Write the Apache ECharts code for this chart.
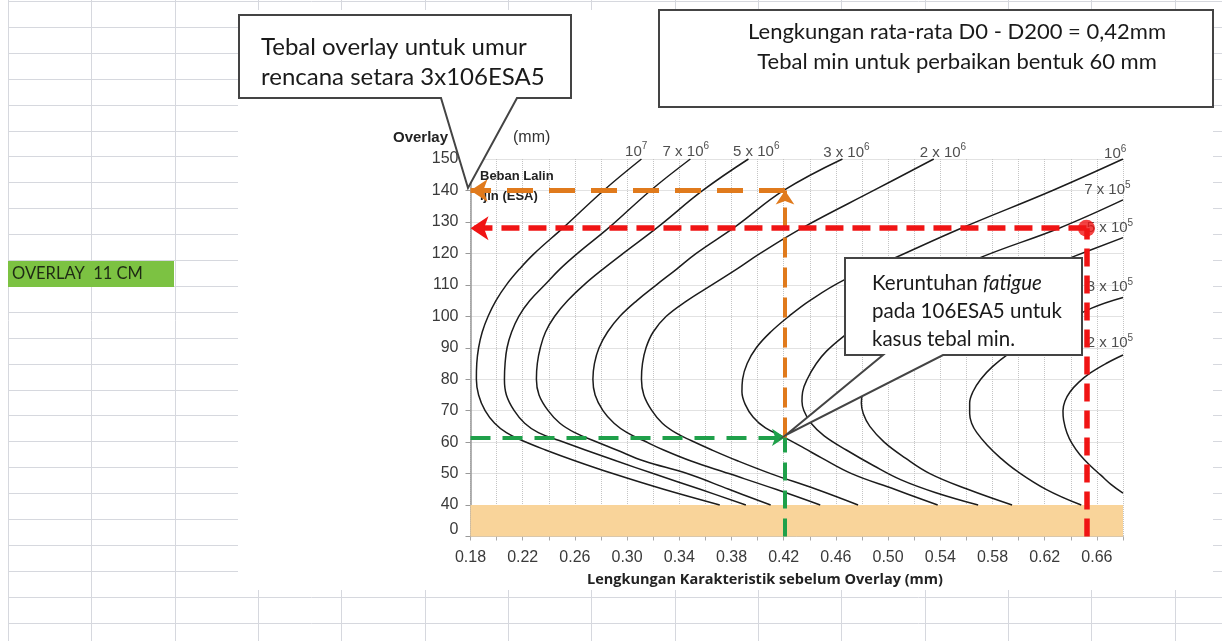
<!DOCTYPE html>
<html>
<head>
<meta charset="utf-8">
<script src="https://cdn.jsdelivr.net/npm/echarts@6/dist/echarts.min.js"></script>
<style>
html, body { margin: 0; padding: 0; background: #fff; }
#chart { width: 1222px; height: 641px; }
</style>
</head>
<body>
<div id="chart"></div>
<script>
// sumbu
const xTickLabels = ['0.18', '0.22', '0.26', '0.30', '0.34', '0.38', '0.42', '0.46', '0.50', '0.54', '0.58', '0.62', '0.66'];
const yTickValues = [30, 40, 50, 60, 70, 80, 90, 100, 110, 120, 130, 140, 150];
const yTickLabels = ['0', '40', '50', '60', '70', '80', '90', '100', '110', '120', '130', '140', '150'];

// kurva beban lalin ijin (ESA): [lengkungan, tebal overlay]
const curve1e7 = [[0.311, 150], [0.282, 140], [0.252, 128.5], [0.229, 120], [0.2175, 115], [0.2075, 110], [0.1995, 105], [0.1935, 100], [0.189, 95], [0.1862, 90], [0.1848, 85], [0.1845, 80], [0.1862, 75], [0.1912, 70], [0.1985, 66], [0.2075, 63], [0.2195, 60.5], [0.2375, 57.5], [0.2605, 54], [0.289, 50], [0.328, 45], [0.371, 40]];
const curve7e6 = [[0.3485, 150], [0.318, 140], [0.287, 128.5], [0.262, 120], [0.2485, 115], [0.237, 110], [0.2255, 105], [0.217, 100], [0.2115, 95], [0.208, 90], [0.2065, 85], [0.206, 80], [0.2075, 75], [0.2135, 70], [0.2215, 66], [0.232, 63], [0.248, 60.5], [0.268, 57.5], [0.292, 54], [0.32, 50], [0.356, 45], [0.391, 40]];
const curve5e6 = [[0.393, 150], [0.358, 140], [0.324, 128.5], [0.297, 120], [0.2815, 115], [0.267, 110], [0.2545, 105], [0.2445, 100], [0.2375, 95], [0.2335, 90], [0.2312, 85], [0.2305, 80], [0.2325, 75], [0.2395, 70], [0.2485, 66], [0.26, 63], [0.274, 60.5], [0.292, 57.5], [0.313, 54], [0.346, 50], [0.378, 45], [0.41, 40]];
const curve3e6 = [[0.465, 150], [0.42, 140], [0.383, 128.5], [0.353, 120], [0.338, 115], [0.3225, 110], [0.3075, 105], [0.2945, 100], [0.285, 95], [0.2785, 90], [0.275, 85], [0.2738, 80], [0.2755, 75], [0.2815, 70], [0.29, 66], [0.30, 63], [0.3125, 60.5], [0.328, 57.5], [0.349, 54], [0.378, 50], [0.414, 45], [0.448, 40]];
const curve2e6 = [[0.535, 150], [0.489, 140], [0.436, 128.5], [0.402, 120], [0.384, 115], [0.365, 110], [0.346, 105], [0.33, 100], [0.32, 95], [0.3145, 90], [0.3118, 85], [0.311, 80], [0.3128, 75], [0.319, 70], [0.327, 66], [0.337, 63], [0.349, 60.5], [0.365, 57.5], [0.385, 54], [0.41, 50], [0.445, 45], [0.477, 40]];
const curve1e6 = [[0.68, 150], [0.626, 140], [0.556, 128], [0.502, 118], [0.466, 111.5], [0.44, 105], [0.424, 100], [0.41, 95], [0.399, 90], [0.392, 85], [0.3885, 80], [0.388, 76], [0.3905, 72], [0.3965, 68], [0.406, 64.5], [0.4205, 61.5], [0.436, 58], [0.449, 55], [0.472, 50], [0.505, 45], [0.538, 40]];
const curve7e5 = [[0.68, 137], [0.631, 128], [0.5715, 118.8], [0.525, 110], [0.50, 104], [0.486, 100], [0.467, 94], [0.453, 89], [0.445, 85], [0.438, 80], [0.4345, 76], [0.434, 73], [0.4355, 70], [0.441, 66], [0.451, 62], [0.468, 57.5], [0.489, 52.5], [0.51, 48], [0.536, 44], [0.569, 40]];
const curve5e5 = [[0.68, 125], [0.641, 118.8], [0.587, 110], [0.561, 105], [0.538, 100], [0.519, 95], [0.504, 90], [0.492, 85], [0.484, 80], [0.4805, 76], [0.4795, 72.4], [0.481, 69], [0.486, 65], [0.497, 60], [0.513, 55], [0.532, 50], [0.561, 45], [0.595, 40]];
const curve3e5 = [[0.68, 106], [0.656, 102.6], [0.625, 96], [0.607, 92], [0.593, 88.3], [0.58, 84], [0.571, 80], [0.565, 76], [0.5625, 72.4], [0.5625, 69], [0.564, 66], [0.568, 63], [0.576, 59], [0.586, 55], [0.598, 51], [0.621, 45], [0.648, 40]];
const curve2e5 = [[0.68, 87.7], [0.667, 85], [0.655, 82], [0.646, 79], [0.6395, 76], [0.6355, 73], [0.634, 70], [0.6345, 67], [0.637, 63], [0.641, 59.5], [0.647, 56], [0.655, 52.5], [0.663, 49.5], [0.671, 46.5], [0.68, 43.8]];
const curves = [curve1e7, curve7e6, curve5e6, curve3e6, curve2e6, curve1e6, curve7e5, curve5e5, curve3e5, curve2e5];

// nama kurva (pangkat sebagai superscript)
const curveLabels = ['{n|10}{s|7}', '{n|7 x 10}{s|6}', '{n|5 x 10}{s|6}', '{n|3 x 10}{s|6}', '{n|2 x 10}{s|6}',
    '{n|10}{s|6}', '{n|7 x 10}{s|5}', '{n|5 x 10}{s|5}', '{n|3 x 10}{s|5}', '{n|2 x 10}{s|5}'];
const labelAnchors = [[0.307, 152.4], [0.345, 152.4], [0.399, 152.4], [0.468, 152], [0.542, 152],
    [0.674, 151.6], [0.668, 140.1], [0.67, 128], [0.67, 109.3], [0.67, 91.5]];

// pembacaan grafik
const bandRange = [30, 40];
const dAvg = 0.421;       // lengkungan rata-rata
const dRed = 0.652;
const tDesign = 140;      // tebal untuk 3x10^6 ESA
const tRed = 128;
const tMin = 61.5;        // tebal min

const chart = echarts.init(document.getElementById('chart'));

const gridLine = '#d6d8de';
const bg = [];
// garis sel excel
for (let k = 0; k < 15; k++) {
    const x = Math.round(8 + 83.33 * k) + 0.5;
    bg.push({ type: 'line', z: -10, shape: { x1: x, y1: 0, x2: x, y2: 641 }, style: { stroke: gridLine, lineWidth: 1 } });
}
for (let j = 0; j < 25; j++) {
    const y = Math.round(1 + 25.9 * j) + 0.5;
    bg.push({ type: 'line', z: -10, shape: { x1: 8, y1: y, x2: 1222, y2: y }, style: { stroke: gridLine, lineWidth: 1 } });
}

const graphics = bg.concat([
    { type: 'rect', z: -9, shape: { x: 8, y: 261, width: 166, height: 26 }, style: { fill: '#7cc242' } },
    { type: 'text', z: -9, style: { text: 'OVERLAY  11 CM', x: 12, y: 274, font: '16.5px Lato', fill: '#1e2a14', textVerticalAlign: 'middle' } },
    { type: 'rect', z: -8, shape: { x: 238, y: 10, width: 975, height: 580 }, style: { fill: '#fff' } },

    { type: 'text', z: 5, style: { text: 'Overlay', x: 393, y: 138, font: 'bold 15px "Liberation Sans"', fill: '#222', textVerticalAlign: 'middle' } },
    { type: 'text', z: 5, style: { text: '(mm)', x: 513, y: 138, font: '16px "Liberation Sans"', fill: '#333', textVerticalAlign: 'middle' } },
    { type: 'text', z: 5, style: { text: 'Beban Lalin\nIjin (ESA)', x: 480, y: 166, font: 'bold 13px "Liberation Sans"', fill: '#222', lineHeight: 20 } },
    { type: 'text', z: 5, style: { text: 'Lengkungan Karakteristik sebelum Overlay (mm)', x: 765, y: 580, font: 'bold 14.5px "Open Sans"', fill: '#222', textAlign: 'center', textVerticalAlign: 'middle' } },

    // callout kiri
    { type: 'polygon', z: 10, shape: { points: [[239, 15], [571, 15], [571, 98], [517, 98], [468, 188], [441, 98], [239, 98]] },
        style: { fill: '#fff', stroke: '#444', lineWidth: 2 } },
    { type: 'text', z: 11, style: { text: 'Tebal overlay untuk umur\nrencana setara 3x106ESA5', x: 261, y: 32, font: '24px Lato', fill: '#1a1a1a', lineHeight: 30 } },
    // kotak kanan atas
    { type: 'rect', z: 10, shape: { x: 659, y: 10, width: 554, height: 97 }, style: { fill: '#fff', stroke: '#444', lineWidth: 2 } },
    { type: 'text', z: 11, style: { text: 'Lengkungan rata-rata D0 - D200 = 0,42mm\nTebal min untuk perbaikan bentuk 60 mm', x: 957, y: 17, font: '22px Lato', fill: '#1a1a1a', lineHeight: 30, textAlign: 'center' } },
    // callout fatigue
    { type: 'polygon', z: 10, shape: { points: [[845, 258], [1082, 258], [1082, 355], [943, 355], [786, 435], [883, 355], [845, 355]] },
        style: { fill: '#fff', stroke: '#444', lineWidth: 2 } },
    { type: 'text', z: 11, style: {
        text: '{n|Keruntuhan }{i|fatigue}\n{n|pada 106ESA5 untuk}\n{n|kasus tebal min.}', x: 872, y: 269,
        rich: { n: { font: '20.5px Lato', fill: '#1a1a1a', lineHeight: 28 }, i: { font: 'italic 20.5px Lato', fill: '#1a1a1a', lineHeight: 28 } }
    } }
]);

const dash = (color, width, type) => ({ color, width, type, opacity: 1 });

const series = [
    {
        type: 'line', data: [], z: -1, silent: true,
        markArea: { silent: true, itemStyle: { color: '#f9d49a' }, data: [[{ yAxis: bandRange[0] }, { yAxis: bandRange[1] }]] }
    },
    ...curves.map((c) => ({
        type: 'line', data: c, z: 2, smooth: 0.4, showSymbol: false, silent: true,
        lineStyle: { color: '#1c1c1c', width: 1.5 }
    })),
    {
        type: 'scatter', z: 3, clip: false, silent: true, symbolSize: 0,
        data: labelAnchors.map((p, i) => ({ value: p, label: { formatter: curveLabels[i] } })),
        label: {
            show: true, position: 'inside', color: '#222',
            rich: {
                n: { fontSize: 15, fontFamily: 'Liberation Sans', color: '#222', lineHeight: 20 },
                s: { fontSize: 10, fontFamily: 'Liberation Sans', color: '#222', lineHeight: 10, verticalAlign: 'top' }
            }
        }
    },
    {
        type: 'line', data: [], z: 4, silent: true,
        markLine: {
            silent: true, animation: false, label: { show: false },
            data: [
                [{ coord: [dAvg, bandRange[0]], symbol: 'none', lineStyle: dash('#1fa04a', 4, [18, 10]) }, { coord: [dAvg, tMin], symbol: 'none' }],
                [{ coord: [0.18, tMin], symbol: 'none', lineStyle: dash('#1fa04a', 4, [20, 12]) }, { coord: [dAvg, tMin], symbol: 'arrow', symbolSize: 13 }],
                [{ coord: [dAvg, tMin], symbol: 'none', lineStyle: dash('#e07a1c', 4, [20, 10]) }, { coord: [dAvg, tDesign], symbol: 'arrow', symbolSize: 14 }],
                [{ coord: [dAvg, tDesign], symbol: 'none', lineStyle: dash('#e07a1c', 5, [26, 16]) }, { coord: [0.18, tDesign], symbol: 'arrow', symbolSize: 17 }],
                [{ coord: [dRed, bandRange[0]], symbol: 'none', lineStyle: dash('#f01414', 5.5, [18, 9]) }, { coord: [dRed, tRed], symbol: 'none' }],
                [{ coord: [dRed, tRed], symbol: 'none', lineStyle: dash('#f01414', 5.5, [18, 9]) }, { coord: [0.18, tRed], symbol: 'arrow', symbolSize: 18 }]
            ]
        }
    },
    {
        type: 'scatter', z: 6, silent: true, symbolSize: 17,
        itemStyle: { color: '#f01414' },
        data: [[dRed, tRed]]
    }
];

const option = {
    animation: false,
    backgroundColor: '#fff',
    graphic: { elements: graphics },
    grid: { left: 470.5, right: 99, top: 159, bottom: 104.5 },
    xAxis: {
        type: 'value', min: 0.18, max: 0.68, interval: 0.02,
        axisLine: { show: true, lineStyle: { color: '#bbb' } },
        axisTick: { show: true, length: 4, lineStyle: { color: '#aaa' } },
        splitLine: { show: true, lineStyle: { color: '#c4c4c4', type: 'dotted' } },
        axisLabel: {
            margin: 13, fontSize: 16, fontFamily: 'Liberation Sans', color: '#3a3a3a',
            formatter: (v) => { const s = v.toFixed(2); return xTickLabels.includes(s) ? s : ''; }
        }
    },
    yAxis: {
        type: 'value', min: 30, max: 150, interval: 10,
        axisLine: { show: true, lineStyle: { color: '#999', width: 1.5 } },
        axisTick: { show: true, length: 5, lineStyle: { color: '#999' } },
        splitLine: { show: true, lineStyle: { color: '#c4c4c4', type: 'dotted' } },
        axisLabel: {
            margin: 12, fontSize: 16, fontFamily: 'Liberation Sans', color: '#3a3a3a',
            formatter: (v) => {
                const i = yTickValues.indexOf(Math.round(v));
                if (i < 0) return '';
                return i === 0 ? '{z|' + yTickLabels[i] + '}' : yTickLabels[i];
            },
            rich: { z: { fontSize: 16, fontFamily: 'Liberation Sans', color: '#3a3a3a', padding: [0, 0, 14, 0] } }
        }
    },
    series
};

chart.setOption(option);
window.addEventListener('resize', () => chart.resize());
</script>
</body>
</html>
